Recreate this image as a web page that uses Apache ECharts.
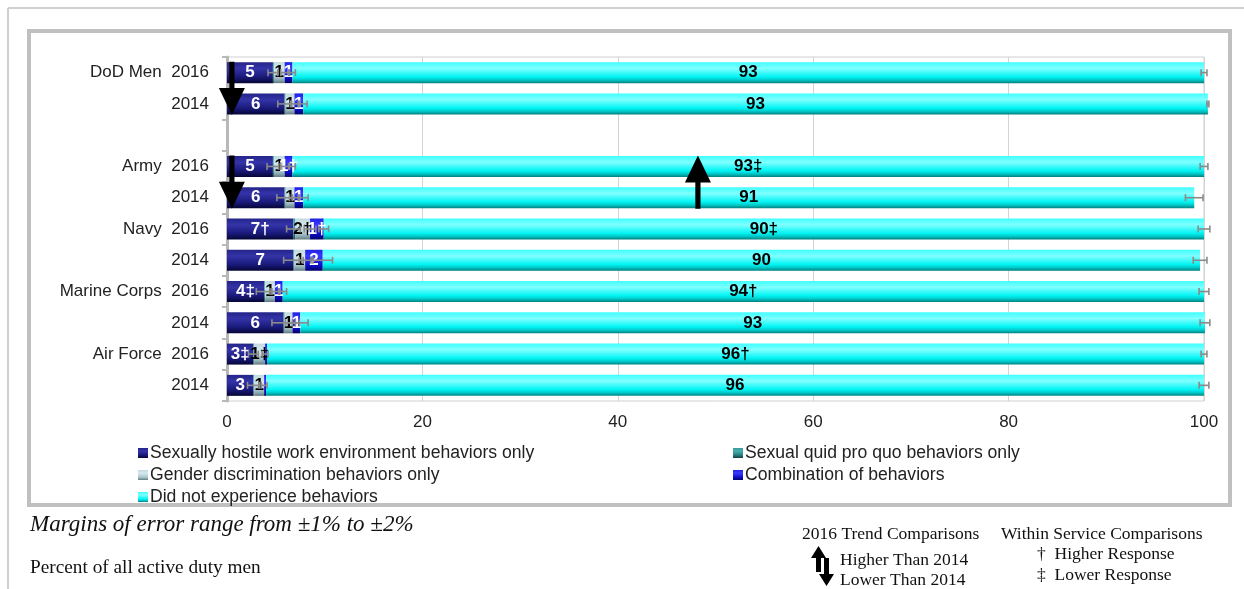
<!DOCTYPE html>
<html>
<head>
<meta charset="utf-8">
<script src="https://cdn.jsdelivr.net/npm/echarts@6/dist/echarts.min.js"></script>
<style>
html,body{margin:0;padding:0;background:#fff;}
#chart{width:1244px;height:589px;}
</style>
</head>
<body>
<div id="chart"></div>
<script>
// ---- data ----
const categories = ['DoD Men  2016', '2014', '', 'Army  2016', '2014', 'Navy  2016', '2014', 'Marine Corps  2016', '2014', 'Air Force  2016', '2014'];
const seriesNames = ['Sexually hostile work environment behaviors only', 'Sexual quid pro quo behaviors only', 'Gender discrimination behaviors only', 'Combination of behaviors', 'Did not experience behaviors'];
const hostile = [4.7, 5.9, null, 4.7, 5.9, 6.8, 6.8, 3.8, 5.8, 2.7, 2.7];
const quidProQuo = [0.1, 0.1, null, 0.1, 0.1, 0.2, 0.1, 0.1, 0.1, 0.1, 0.1];
const gender = [1.1, 0.9, null, 1.1, 0.9, 1.5, 1.1, 1.0, 0.8, 1.1, 1.0];
const combination = [0.8, 0.9, null, 0.8, 0.9, 1.4, 1.8, 0.8, 0.8, 0.2, 0.2];
const notExperienced = [93.3, 92.6, null, 93.3, 91.2, 90.1, 89.8, 94.3, 92.6, 95.9, 96.0];
// within-service markers
const hostileMark = ['', '', '', '', '', '†', '', '‡', '', '‡', ''];
const quidMark = ['', '', '', '', '', '', '', '', '', '', ''];
const genderMark = ['', '', '', '', '', '†', '', '', '', '‡', ''];
const combinationMark = ['', '', '', '†', '', '†', '', '', '', '', ''];
const notMark = ['', '', '', '‡', '', '‡', '', '†', '', '†', ''];
// margins of error (half widths) at segment ends
const errHostile = [0.5, 0.7, null, 0.6, 0.8, 0.7, 1.0, 0.8, 1.2, 0.5, 0.6];
const errGender = [0.4, 0.4, null, 0.4, 0.5, 0.6, 0.6, 0.5, 0.7, 0.3, 0.3];
const errCombination = [0.3, 0.4, null, 0.3, 0.5, 0.5, 1.0, 0.4, 0.8, null, null];
const errNot = [0.3, 0.1, null, 0.4, 0.9, 0.6, 0.7, 0.5, 0.5, 0.3, 0.5];
// 2016 trend arrows: [x position, from row, to row]
const trendArrows = [[0.5, 0, 1], [0.5, 3, 4], [48.2, 4, 3]];
const xTicks = {min: 0, max: 100, interval: 20};

// ---- styles ----
function grad(light, hi, base, dark, darker) {
  return new echarts.graphic.LinearGradient(0, 0, 0, 1, [
    {offset: 0, color: light}, {offset: 0.3, color: hi}, {offset: 0.7, color: base},
    {offset: 0.85, color: dark}, {offset: 1, color: darker}
  ]);
}
const colors = [
  grad('#24248a', '#3434a8', '#1a1a7c', '#10105a', '#050535'),
  grad('#3a9a9a', '#45b0b0', '#2a8080', '#1a6060', '#0d4040'),
  grad('#c0d8de', '#d6eaee', '#b0c8d0', '#8aa8b0', '#607880'),
  grad('#2020e0', '#3a3aff', '#1010cc', '#0808a0', '#040460'),
  grad('#40ffff', '#80ffff', '#00f4f4', '#00c8c8', '#008080')
];
const values = [hostile, quidProQuo, gender, combination, notExperienced];
const marks = [hostileMark, quidMark, genderMark, combinationMark, notMark];
const labelColors = ['#fff', '#000', '#000', '#fff', '#000'];

const barSeries = values.map((vals, si) => ({
  name: seriesNames[si],
  type: 'bar',
  stack: 'total',
  barWidth: 21,
  clip: false,
  data: vals,
  itemStyle: {color: colors[si]},
  label: {
    show: true,
    position: 'inside',
    fontFamily: 'Liberation Sans, Arial',
    fontWeight: 'bold',
    fontSize: 17,
    color: labelColors[si],
    formatter: p => {
      const v = vals[p.dataIndex];
      if (v == null) return '';
      const r = Math.round(v);
      if (r === 0) return '';
      return r + marks[si][p.dataIndex];
    }
  }
}));

// error bars
const errData = [];
for (let i = 0; i < categories.length; i++) {
  if (hostile[i] == null) continue;
  const e1 = hostile[i];
  const e2 = e1 + quidProQuo[i] + gender[i];
  const e3 = e2 + combination[i];
  const e4 = e3 + notExperienced[i];
  [[e1, errHostile[i]], [e2, errGender[i]], [e3, errCombination[i]], [e4, errNot[i]]].forEach(([c, h]) => {
    if (h != null) errData.push([c, i, h]);
  });
}

const chart = echarts.init(document.getElementById('chart'), null, {renderer: 'canvas'});
const legendText = {fontSize: 17.6, color: '#222', lineHeight: 17, padding: [0, 0, 0, -3]};
const option = {
  animation: false,
  backgroundColor: '#fff',
  textStyle: {fontFamily: 'Liberation Sans, Arial'},
  grid: {left: 227, right: 40, top: 57, height: 344, show: true, borderColor: '#d0d0d0', borderWidth: 1},
  xAxis: {
    type: 'value', min: xTicks.min, max: xTicks.max, interval: xTicks.interval,
    axisLine: {show: false}, axisTick: {show: false},
    splitLine: {lineStyle: {color: '#d4d4d4'}},
    axisLabel: {fontSize: 17, color: '#222', margin: 13}
  },
  yAxis: {
    type: 'category', inverse: true, data: categories, offset: 4,
    axisLine: {lineStyle: {color: '#b8b8b8', width: 3}},
    axisTick: {show: true, length: 5, lineStyle: {color: '#b8b8b8', width: 2}},
    axisLabel: {fontSize: 17, color: '#222', margin: 14}
  },
  legend: [
    {
      data: [seriesNames[0], seriesNames[2], seriesNames[4]],
      orient: 'vertical', left: 133, top: 439, itemWidth: 10, itemHeight: 10, itemGap: 4,
      icon: 'rect', textStyle: legendText
    },
    {
      data: [seriesNames[1], seriesNames[3]],
      orient: 'vertical', left: 728, top: 439, itemWidth: 10, itemHeight: 10, itemGap: 4,
      icon: 'rect', textStyle: legendText
    }
  ],
  series: barSeries.concat([
    {
      type: 'custom', name: 'err', z: 3, silent: true,
      data: errData,
      renderItem: (params, api) => {
        const c = api.value(0), r = api.value(1), h = api.value(2);
        const a = api.coord([c - h, r]), b = api.coord([c + h, r]);
        const st = {stroke: '#8a8a8a', lineWidth: 1.6};
        return {type: 'group', children: [
          {type: 'line', shape: {x1: a[0], y1: a[1], x2: b[0], y2: b[1]}, style: st},
          {type: 'line', shape: {x1: a[0], y1: a[1] - 3.5, x2: a[0], y2: a[1] + 3.5}, style: st},
          {type: 'line', shape: {x1: b[0], y1: b[1] - 3.5, x2: b[0], y2: b[1] + 3.5}, style: st}
        ]};
      }
    },
    {
      type: 'custom', name: 'arrows', z: 5, silent: true,
      data: trendArrows,
      renderItem: (params, api) => {
        const x = api.value(0), rf = api.value(1), rt = api.value(2);
        const p = api.coord([x, rf]), q = api.coord([x, rt]);
        const dir = q[1] > p[1] ? 1 : -1;
        const sY = p[1] - dir * 11, tY = q[1] + dir * 11;
        const cx = p[0], sh = 2.6, hh = 13, hl = 27;
        const bY = tY - dir * hl;
        return {type: 'polygon', shape: {points: [
          [cx - sh, sY], [cx + sh, sY], [cx + sh, bY], [cx + hh, bY], [cx, tY], [cx - hh, bY], [cx - sh, bY]
        ]}, style: {fill: '#000'}};
      }
    }
  ]),
  graphic: [
    {type: 'line', silent: true, shape: {x1: 8, y1: 8, x2: 1244, y2: 8}, style: {stroke: '#cfcfcf', lineWidth: 2}},
    {type: 'line', silent: true, shape: {x1: 8, y1: 8, x2: 8, y2: 589}, style: {stroke: '#cfcfcf', lineWidth: 2}},
    {type: 'rect', silent: true, shape: {x: 29, y: 31, width: 1201, height: 474}, style: {fill: 'none', stroke: '#c0c0c0', lineWidth: 4}},
    {type: 'text', left: 30, top: 513, style: {text: 'Margins of error range from ±1% to ±2%', fontFamily: 'Liberation Serif, Times New Roman', fontStyle: 'italic', fontSize: 23, fill: '#111'}},
    {type: 'text', left: 30, top: 558, style: {text: 'Percent of all active duty men', fontFamily: 'Liberation Serif, Times New Roman', fontSize: 19.3, fill: '#111'}},
    {type: 'text', left: 802, top: 525, style: {text: '2016 Trend Comparisons', fontFamily: 'Liberation Serif, Times New Roman', fontSize: 17.5, fill: '#111'}},
    {type: 'text', left: 840, top: 551, style: {text: 'Higher Than 2014', fontFamily: 'Liberation Serif, Times New Roman', fontSize: 17.5, fill: '#111'}},
    {type: 'text', left: 840, top: 571, style: {text: 'Lower Than 2014', fontFamily: 'Liberation Serif, Times New Roman', fontSize: 17.5, fill: '#111'}},
    {type: 'text', left: 1001, top: 525, style: {text: 'Within Service Comparisons', fontFamily: 'Liberation Serif, Times New Roman', fontSize: 17.5, fill: '#111'}},
    {type: 'text', left: 1037, top: 545, style: {text: '†  Higher Response', fontFamily: 'Liberation Serif, Times New Roman', fontSize: 17.5, fill: '#111'}},
    {type: 'text', left: 1037, top: 566, style: {text: '‡  Lower Response', fontFamily: 'Liberation Serif, Times New Roman', fontSize: 17.5, fill: '#111'}},
    {type: 'polygon', silent: true, shape: {points: [[816, 572], [821, 572], [821, 558], [826, 558], [818.5, 546], [811, 558], [816, 558]]}, style: {fill: '#000'}},
    {type: 'polygon', silent: true, shape: {points: [[824, 558], [829, 558], [829, 574], [834, 574], [826.5, 586], [819, 574], [824, 574]]}, style: {fill: '#000'}}
  ]
};
chart.setOption(option);
</script>
</body>
</html>
